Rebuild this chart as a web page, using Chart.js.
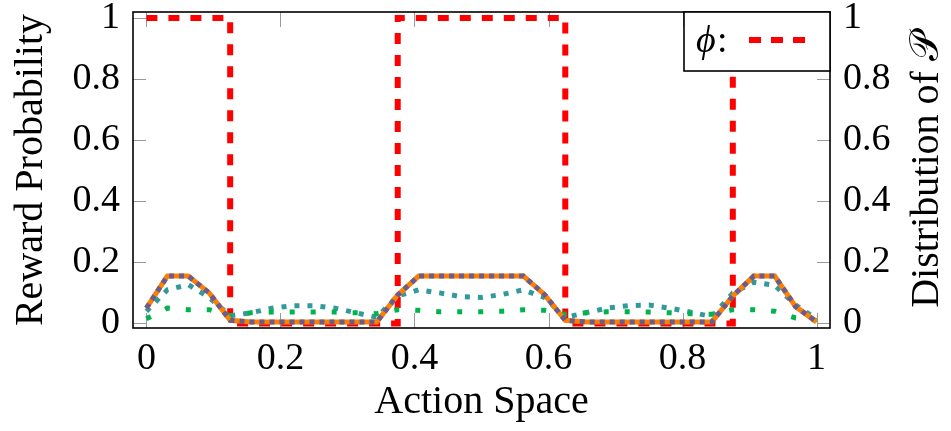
<!DOCTYPE html>
<html>
<head>
<meta charset="utf-8">
<script src="https://cdn.jsdelivr.net/npm/chart.js@4.4.1/dist/chart.umd.min.js"></script>
<style>
html, body { margin: 0; padding: 0; background: #fff; }
#wrap { width: 951px; height: 431px; }
</style>
</head>
<body>
<div id="wrap"><canvas id="chart" width="951" height="431"></canvas></div>
<script>
// sample positions on the action space (33 points)
const actionX = [0, 0.03125, 0.0625, 0.09375, 0.125, 0.15625, 0.1875, 0.21875, 0.25,
    0.28125, 0.3125, 0.34375, 0.375, 0.40625, 0.4375, 0.46875, 0.5, 0.53125, 0.5625,
    0.59375, 0.625, 0.65625, 0.6875, 0.71875, 0.75, 0.78125, 0.8125, 0.84375, 0.875,
    0.90625, 0.9375, 0.96875, 1];

const rewardTrue = [0.05, 0.155, 0.155, 0.10, 0.01, 0.005, 0.005, 0.005, 0.005,
    0.005, 0.005, 0.005, 0.093, 0.155, 0.155, 0.155, 0.155, 0.155, 0.155,
    0.095, 0.01, 0.005, 0.005, 0.005, 0.005, 0.005, 0.005, 0.005, 0.09,
    0.155, 0.155, 0.055, 0.005];

const rewardEst = [0.05, 0.155, 0.155, 0.10, 0.01, 0.005, 0.005, 0.005, 0.005,
    0.005, 0.005, 0.005, 0.093, 0.155, 0.155, 0.155, 0.155, 0.155, 0.155,
    0.095, 0.01, 0.005, 0.005, 0.005, 0.005, 0.005, 0.005, 0.005, 0.09,
    0.155, 0.155, 0.055, 0.005];

const distTeal = [0.04, 0.11, 0.127, 0.085, 0.025, 0.035, 0.05, 0.058, 0.058,
    0.05, 0.035, 0.02, 0.09, 0.11, 0.10, 0.088, 0.085, 0.095, 0.11,
    0.085, 0.02, 0.035, 0.05, 0.058, 0.06, 0.05, 0.037, 0.022, 0.10,
    0.135, 0.125, 0.06, 0.015];

const distGreen = [0.015, 0.05, 0.045, 0.045, 0.025, 0.035, 0.037, 0.037, 0.037,
    0.037, 0.035, 0.032, 0.045, 0.043, 0.038, 0.038, 0.038, 0.04, 0.045,
    0.043, 0.03, 0.035, 0.038, 0.038, 0.037, 0.035, 0.032, 0.03, 0.045,
    0.045, 0.04, 0.018, 0.01];

const phiX = [0, 0.125, 0.125, 0.375, 0.375, 0.625, 0.625, 0.875, 0.875, 1];
const phiY = [1, 1, 0, 0, 1, 1, 0, 0, 1, 1];

const xTicks = [0, 0.2, 0.4, 0.6, 0.8, 1];
const xTickLabels = ['0', '0.2', '0.4', '0.6', '0.8', '1'];
const yTicks = [0, 0.2, 0.4, 0.6, 0.8, 1];
const yTickLabels = ['0', '0.2', '0.4', '0.6', '0.8', '1'];

const serif = "'Liberation Serif', 'DejaVu Serif', serif";

function toPoints(xs, ys) {
    return xs.map((x, i) => ({ x: x, y: ys[i] }));
}

// ticks, frame, legend and right title (pgfplots look)
const framePlugin = {
    id: 'framePlugin',
    beforeDatasetsDraw(chart) {
        const { ctx, chartArea: a, scales } = chart;
        ctx.save();
        ctx.strokeStyle = '#9a9a9a';
        ctx.lineWidth = 1;
        ctx.beginPath();
        xTicks.forEach(v => {
            const px = Math.round(scales.x.getPixelForValue(v)) + 0.5;
            ctx.moveTo(px, a.bottom); ctx.lineTo(px, a.bottom - 15);
            ctx.moveTo(px, a.top); ctx.lineTo(px, a.top + 15);
        });
        yTicks.forEach(v => {
            const py = Math.round(scales.y.getPixelForValue(v)) + 0.5;
            ctx.moveTo(a.left, py); ctx.lineTo(a.left + 13, py);
            ctx.moveTo(a.right, py); ctx.lineTo(a.right - 13, py);
        });
        ctx.stroke();
        ctx.restore();
    },
    afterDatasetsDraw(chart) {
        const { ctx, chartArea: a } = chart;
        ctx.save();
        ctx.strokeStyle = '#000';
        ctx.lineWidth = 1.6;
        ctx.strokeRect(a.left, a.top, a.right - a.left, a.bottom - a.top);
        ctx.restore();
    },
    afterDraw(chart) {
        const { ctx, chartArea: a } = chart;
        ctx.save();
        // legend
        const bx = a.right - 146, by = a.top, bw = 146, bh = 59;
        ctx.fillStyle = '#fff';
        ctx.fillRect(bx, by, bw, bh);
        ctx.strokeStyle = '#000';
        ctx.lineWidth = 1.6;
        ctx.strokeRect(bx, by, bw, bh);
        ctx.fillStyle = '#000';
        ctx.textBaseline = 'alphabetic';
        ctx.textAlign = 'left';
        ctx.font = 'italic 38px ' + serif;
        ctx.fillText('\u03D5', bx + 12, by + 40);
        ctx.font = '38px ' + serif;
        ctx.fillText(':', bx + 33, by + 40);
        ctx.strokeStyle = '#ff0000';
        ctx.lineWidth = 6;
        ctx.setLineDash([12, 10]);
        ctx.beginPath();
        ctx.moveTo(bx + 65, by + 28);
        ctx.lineTo(bx + 123, by + 28);
        ctx.stroke();
        ctx.setLineDash([]);
        // right axis title, reading upwards like the left one
        ctx.fillStyle = '#000';
        ctx.font = '40px ' + serif;
        ctx.textAlign = 'center';
        ctx.textBaseline = 'middle';
        ctx.translate(927, (a.top + a.bottom) / 2);
        ctx.rotate(-Math.PI / 2);
        ctx.fillText('Distribution of \uD835\uDCAB', 0, 0);
        ctx.restore();
    }
};

Chart.defaults.font.family = serif;
Chart.defaults.color = '#000';

function noPadY(s, w) {
    s.width = w;
    s.paddingTop = 0;
    s.paddingBottom = 0;
}

new Chart(document.getElementById('chart'), {
    type: 'line',
    data: {
        datasets: [
            {
                label: 'reward estimate',
                data: toPoints(actionX, rewardEst),
                borderColor: '#6a5d8e',
                borderWidth: 5,
                borderDash: [5, 5],
                yAxisID: 'y'
            },
            {
                label: 'reward',
                data: toPoints(actionX, rewardTrue),
                borderColor: '#ff8000',
                borderWidth: 5,
                yAxisID: 'y'
            },
            {
                label: 'distribution 2',
                data: toPoints(actionX, distGreen),
                borderColor: '#00b34d',
                borderWidth: 5,
                borderDash: [5, 16],
                yAxisID: 'y2'
            },
            {
                label: 'distribution 1',
                data: toPoints(actionX, distTeal),
                borderColor: '#329a9a',
                borderWidth: 5,
                borderDash: [5, 8],
                yAxisID: 'y2'
            },
            {
                label: 'phi',
                data: toPoints(phiX, phiY),
                borderColor: '#ff0000',
                borderWidth: 6,
                borderDash: [11, 11],
                yAxisID: 'y'
            }
        ]
    },
    options: {
        responsive: false,
        animation: false,
        events: [],
        layout: { padding: { top: 12, left: 0, right: 0, bottom: 0 } },
        elements: {
            point: { radius: 0 },
            line: { tension: 0, borderCapStyle: 'butt', borderJoinStyle: 'miter', fill: false }
        },
        plugins: {
            legend: { display: false },
            tooltip: { enabled: false }
        },
        scales: {
            x: {
                type: 'linear',
                min: -0.02,
                max: 1.02,
                grid: { display: false, drawTicks: false },
                border: { display: false },
                afterBuildTicks: s => { s.ticks = xTicks.map(v => ({ value: v })); },
                afterFit: s => { s.height = 103; s.paddingLeft = 0; s.paddingRight = 0; },
                ticks: {
                    padding: 8,
                    maxRotation: 0,
                    font: { size: 38 },
                    callback: (v, i) => xTickLabels[i]
                },
                title: {
                    display: true,
                    text: 'Action Space',
                    font: { size: 40 },
                    padding: { top: 0, bottom: 5 }
                }
            },
            y: {
                type: 'linear',
                position: 'left',
                min: -0.015,
                max: 1.02,
                grid: { display: false, drawTicks: false },
                border: { display: false },
                afterBuildTicks: s => { s.ticks = yTicks.map(v => ({ value: v })); },
                afterFit: s => noPadY(s, 133),
                ticks: {
                    padding: 13,
                    font: { size: 38 },
                    callback: (v, i) => yTickLabels[i]
                },
                title: {
                    display: true,
                    text: 'Reward Probability',
                    font: { size: 40 },
                    padding: { top: 7, bottom: 0 }
                }
            },
            y2: {
                type: 'linear',
                position: 'right',
                min: -0.015,
                max: 1.02,
                grid: { display: false, drawTicks: false },
                border: { display: false },
                afterBuildTicks: s => { s.ticks = yTicks.map(v => ({ value: v })); },
                afterFit: s => noPadY(s, 121),
                ticks: {
                    padding: 13,
                    font: { size: 38 },
                    callback: (v, i) => yTickLabels[i]
                }
            }
        }
    },
    plugins: [framePlugin]
});
</script>
</body>
</html>
